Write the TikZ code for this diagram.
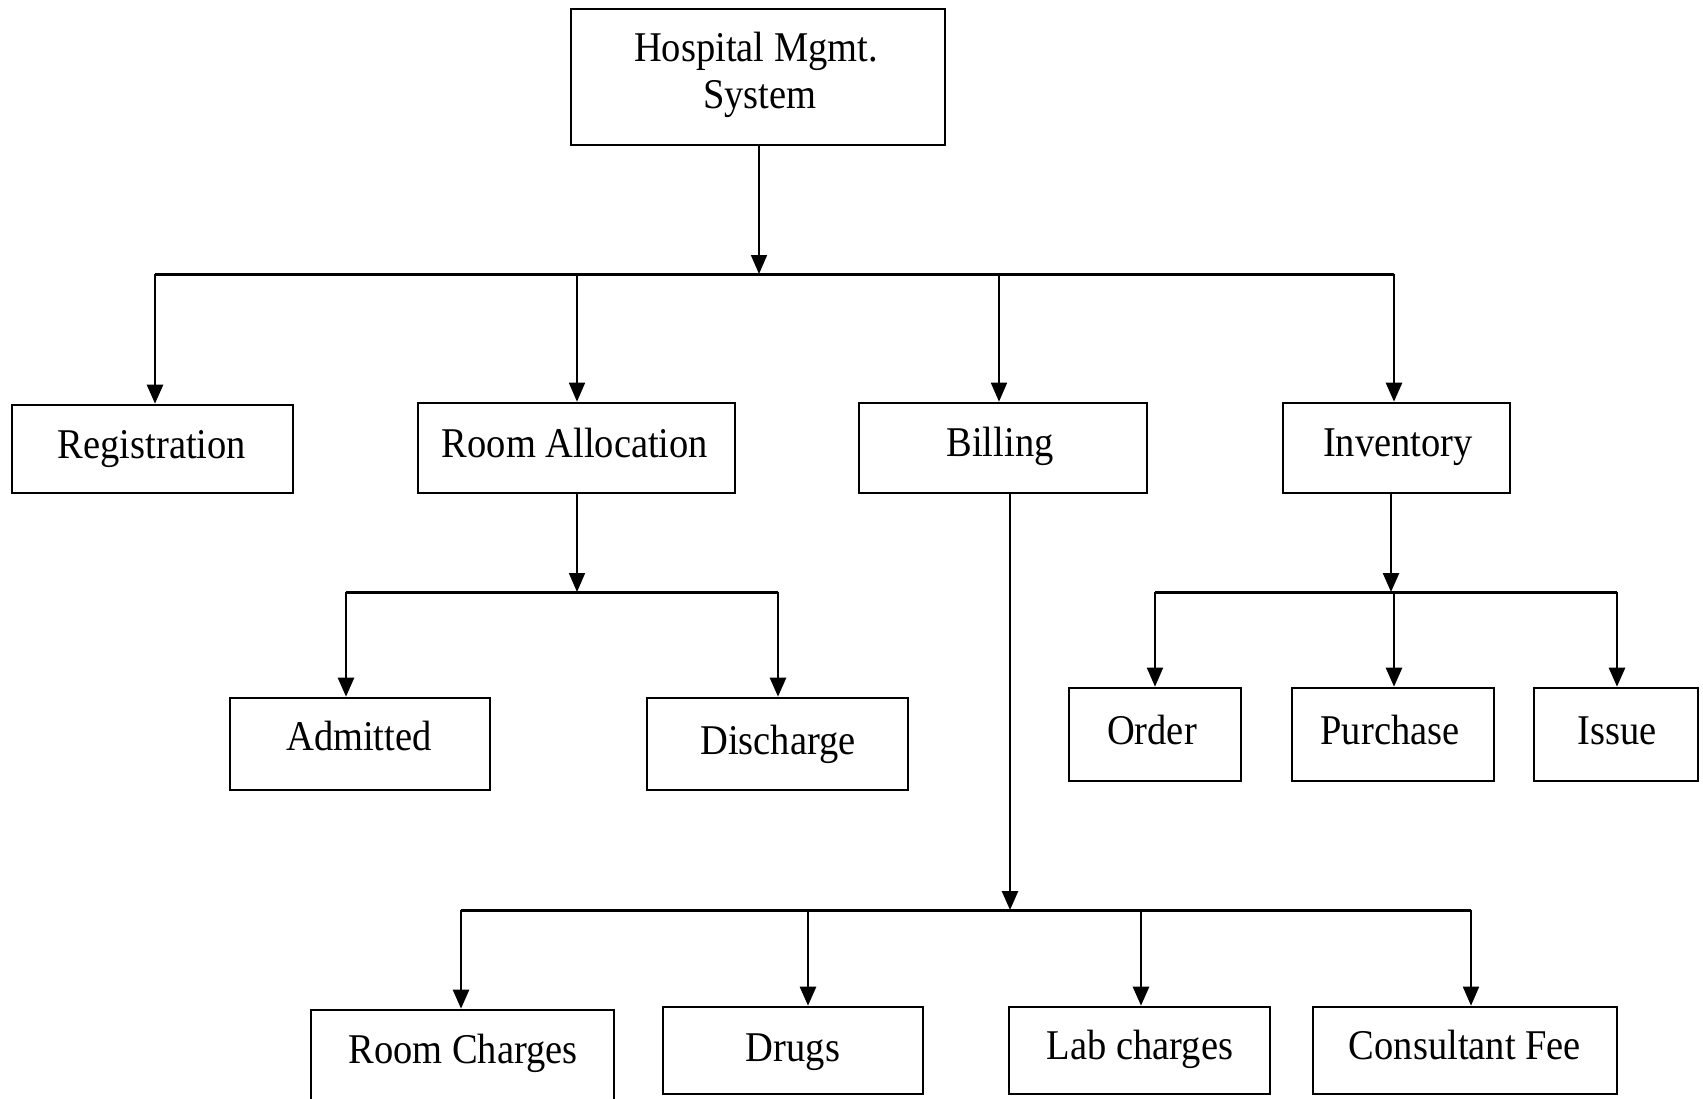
\documentclass[tikz,border=0pt]{standalone}
\usepackage{fontspec}
\usepackage{graphicx}
\setmainfont{Liberation Serif}
\usetikzlibrary{arrows.meta}
\newcommand{\tallt}[1]{\scalebox{1}[1.1]{#1}}
\tikzset{
  box/.style={draw, line width=2.6pt, rectangle, inner sep=0pt},
  lbl/.style={anchor=base, inner sep=0pt, font=\fontsize{38.5}{40}\selectfont},
  bus/.style={line width=3pt},
  arr/.style={line width=2.6pt, -{Triangle[width=16pt,length=19pt]}},
  thinarr/.style={line width=1.7pt, -{Triangle[width=16pt,length=19pt]}},
}
\begin{document}
\begin{tikzpicture}[x=1pt,y=-1pt]
\useasboundingbox (0,0) rectangle (1703,1098);
\clip (0,0) rectangle (1703,1098);
\fill[white] (0,0) rectangle (1703,1098);

% boxes
\node[box, minimum width=374pt, minimum height=136pt] (top)  at (758,77) {};
\node[box, minimum width=281pt, minimum height=88pt]  (reg)  at (152.5,449) {};
\node[box, minimum width=317pt, minimum height=90pt]  (room) at (576.5,448) {};
\node[box, minimum width=288pt, minimum height=90pt]  (bill) at (1003,448) {};
\node[box, minimum width=227pt, minimum height=90pt]  (inv)  at (1396.5,448) {};
\node[box, minimum width=260pt, minimum height=92pt]  (adm)  at (360,744) {};
\node[box, minimum width=261pt, minimum height=92pt]  (dis)  at (777.5,744) {};
\node[box, minimum width=172pt, minimum height=93pt]  (ord)  at (1155,734.5) {};
\node[box, minimum width=202pt, minimum height=93pt]  (pur)  at (1393,734.5) {};
\node[box, minimum width=164pt, minimum height=93pt]  (iss)  at (1616,734.5) {};
\node[box, minimum width=303pt, minimum height=100pt] (rc)   at (462.5,1060) {};
\node[box, minimum width=260pt, minimum height=87pt]  (drg)  at (793,1050.5) {};
\node[box, minimum width=261pt, minimum height=87pt]  (lab)  at (1139.5,1050.5) {};
\node[box, minimum width=304pt, minimum height=87pt]  (con)  at (1465,1050.5) {};

% labels
\node[lbl] (t-top1) at (756,61)   {\tallt{Hospital Mgmt.}};
\node[lbl] (t-top2) at (760,108)  {\tallt{System}};
\node[lbl] (t-reg)  at (152,458)  {\tallt{Registration}};
\node[lbl] (t-room) at (575,457)  {\tallt{Room Allocation}};
\node[lbl] (t-bill) at (1000,456) {\tallt{Billing}};
\node[lbl] (t-inv)  at (1398,456) {\tallt{Inventory}};
\node[lbl] (t-adm)  at (359,750)  {\tallt{Admitted}};
\node[lbl] (t-dis)  at (778,754)  {\tallt{Discharge}};
\node[lbl] (t-ord)  at (1152,744) {\tallt{Order}};
\node[lbl] (t-pur)  at (1390,744) {\tallt{Purchase}};
\node[lbl] (t-iss)  at (1617,744) {\tallt{Issue}};
\node[lbl] (t-rc)   at (463,1063) {\tallt{Room Charges}};
\node[lbl] (t-drg)  at (793,1061) {\tallt{Drugs}};
\node[lbl] (t-lab)  at (1140,1059){\tallt{Lab charges}};
\node[lbl] (t-con)  at (1465,1059){\tallt{Consultant Fee}};

% bus junctions
\coordinate (b1)  at (759,274);
\coordinate (b1L) at (155,274);
\coordinate (b1a) at (577,274);
\coordinate (b1b) at (999,274);
\coordinate (b1R) at (1394,274);

\coordinate (b2)  at (577,592);
\coordinate (b2L) at (346,592);
\coordinate (b2R) at (778,592);

\coordinate (b3)  at (1010,910);
\coordinate (b3L) at (461,910);
\coordinate (b3a) at (808,910);
\coordinate (b3b) at (1141,910);
\coordinate (b3R) at (1471,910);

\coordinate (b4)  at (1391,592);
\coordinate (b4L) at (1155,592);
\coordinate (b4a) at (1394,592);
\coordinate (b4R) at (1617,592);

% level 1
\draw[thinarr] (b1 |- top.south) -- (b1);
\draw[bus] (b1L) -- (b1R);
\draw[arr] (b1L) -- (b1L |- reg.north);
\draw[thinarr] (b1a) -- (b1a |- room.north);
\draw[thinarr] (b1b) -- (b1b |- bill.north);
\draw[arr] (b1R) -- (b1R |- inv.north);

% room allocation
\draw[thinarr] (b2 |- room.south) -- (b2);
\draw[bus] (b2L) -- (b2R);
\draw[arr] (b2L) -- (b2L |- adm.north);
\draw[arr] (b2R) -- (b2R |- dis.north);

% billing
\draw[arr] (b3 |- bill.south) -- (b3);
\draw[bus] (b3L) -- (b3R);
\draw[arr] (b3L) -- (b3L |- rc.north);
\draw[arr] (b3a) -- (b3a |- drg.north);
\draw[arr] (b3b) -- (b3b |- lab.north);
\draw[thinarr] (b3R) -- (b3R |- con.north);

% inventory
\draw[arr] (b4 |- inv.south) -- (b4);
\draw[bus] (b4L) -- (b4R);
\draw[thinarr] (b4L) -- (b4L |- ord.north);
\draw[arr] (b4a) -- (b4a |- pur.north);
\draw[arr] (b4R) -- (b4R |- iss.north);
\end{tikzpicture}
\end{document}
